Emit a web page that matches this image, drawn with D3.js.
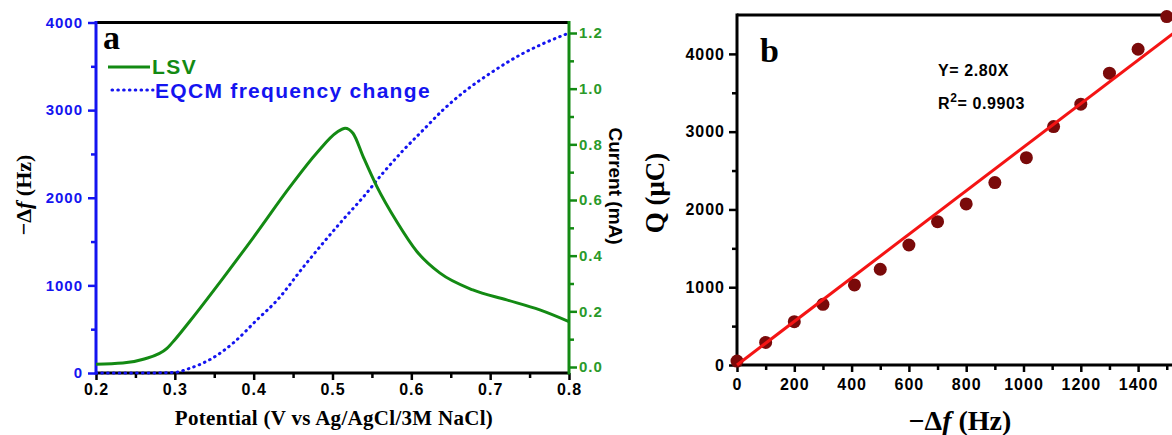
<!DOCTYPE html>
<html>
<head>
<script src="https://d3js.org/d3.v7.min.js"></script>
<style>
body { margin: 0; background: #fff; }
svg { display: block; }
text { font-family: "Liberation Sans", Arial, sans-serif; font-weight: bold; }
.serif { font-family: "Liberation Serif", "Times New Roman", serif; }
</style>
</head>
<body>
<svg width="1172" height="435"></svg>
<script>
// panel a - LSV current (mA) vs potential
var lsvV = [0.200, 0.234, 0.260, 0.290, 0.300, 0.320, 0.360, 0.400, 0.446, 0.480, 0.506, 0.516, 0.526, 0.539, 0.556, 0.582, 0.607, 0.636, 0.678, 0.721, 0.763, 0.800];
var lsvI = [0.010, 0.014, 0.028, 0.067, 0.098, 0.168, 0.315, 0.467, 0.647, 0.769, 0.844, 0.858, 0.840, 0.755, 0.650, 0.520, 0.415, 0.338, 0.277, 0.241, 0.205, 0.163];

// panel a - EQCM frequency change (Hz) vs potential
var eqcmV = [0.200, 0.250, 0.298, 0.319, 0.348, 0.374, 0.404, 0.430, 0.463, 0.488, 0.513, 0.539, 0.564, 0.590, 0.615, 0.640, 0.670, 0.700, 0.740, 0.770, 0.800];
var eqcmHz = [0, 0, 5, 54, 171, 342, 605, 833, 1209, 1483, 1746, 2008, 2282, 2544, 2773, 3001, 3230, 3420, 3640, 3770, 3880];

// panel b - charge vs frequency change
var dfHz = [0, 100, 200, 300, 410, 500, 600, 700, 800, 900, 1010, 1105, 1200, 1300, 1400, 1500];
var charge = [50, 290, 557, 780, 1029, 1231, 1543, 1843, 2071, 2345, 2666, 3065, 3353, 3752, 4060, 4480];
var slope = 2.80;
var r2 = "0.9903";

var potTicks = [0.2, 0.3, 0.4, 0.5, 0.6, 0.7, 0.8];
var hzTicks = [0, 1000, 2000, 3000, 4000];
var mATicks = [0, 0.2, 0.4, 0.6, 0.8, 1.0, 1.2];
var dfTicks = [0, 200, 400, 600, 800, 1000, 1200, 1400];
var qTicks = [0, 1000, 2000, 3000, 4000];

var blue = "#1414f0", green = "#138a13", greenTxt = "#2a9a2a";

var svg = d3.select("svg");

// ---------- panel a ----------
var x = d3.scaleLinear().domain([0.2, 0.8]).range([96, 569]);
var yL = d3.scaleLinear().domain([0, 4000]).range([373, 22.5]);
var yR = d3.scaleLinear().domain([0, 1.2]).range([367, 33]);

var a = svg.append("g");

function styleAxis(g, col, txtCol) {
    g.select(".domain").remove();
    g.selectAll("line").attr("stroke", col).attr("stroke-width", 2.5);
    g.selectAll("text").attr("fill", txtCol).style("font-size", "15px").style("letter-spacing", "1px");
}

// bottom
a.append("g").attr("transform", "translate(0,373)")
    .call(d3.axisBottom(x).tickValues(d3.range(0.25, 0.8, 0.1)).tickSize(5).tickFormat(""))
    .call(styleAxis, "#000", "#000");
a.append("g").attr("transform", "translate(0,373)")
    .call(d3.axisBottom(x).tickValues(potTicks).tickSize(7).tickPadding(4).tickFormat(d3.format(".1f")))
    .call(styleAxis, "#000", "#000")
    .selectAll("text").style("font-size", "16px");

// left
a.append("g").attr("transform", "translate(96,0)")
    .call(d3.axisLeft(yL).tickValues([500, 1500, 2500, 3500]).tickSize(5).tickFormat(""))
    .call(styleAxis, blue, blue);
a.append("g").attr("transform", "translate(96,0)")
    .call(d3.axisLeft(yL).tickValues(hzTicks).tickSize(8).tickPadding(5).tickFormat(d3.format("d")))
    .call(styleAxis, blue, blue);

// right
a.append("g").attr("transform", "translate(569,0)")
    .call(d3.axisRight(yR).tickValues([0.1, 0.3, 0.5, 0.7, 0.9, 1.1]).tickSize(5).tickFormat(""))
    .call(styleAxis, green, greenTxt);
a.append("g").attr("transform", "translate(569,0)")
    .call(d3.axisRight(yR).tickValues(mATicks).tickSize(8).tickPadding(2).tickFormat(d3.format(".1f")))
    .call(styleAxis, green, greenTxt);

// frame lines
a.append("line").attr("x1", 96).attr("x2", 569).attr("y1", 22.5).attr("y2", 22.5).attr("stroke", "#000").attr("stroke-width", 3);
a.append("line").attr("x1", 96).attr("x2", 569).attr("y1", 373).attr("y2", 373).attr("stroke", "#000").attr("stroke-width", 3);
a.append("line").attr("x1", 96).attr("x2", 96).attr("y1", 21).attr("y2", 374.5).attr("stroke", blue).attr("stroke-width", 3);
a.append("line").attr("x1", 569).attr("x2", 569).attr("y1", 21).attr("y2", 374.5).attr("stroke", green).attr("stroke-width", 3);

// curves
var eqcm = eqcmV.map(function(v, i) { return [v, eqcmHz[i]]; });
var lsv = lsvV.map(function(v, i) { return [v, lsvI[i]]; });

a.append("path").datum(eqcm)
    .attr("d", d3.line().x(function(d) { return x(d[0]); }).y(function(d) { return yL(d[1]); }).curve(d3.curveMonotoneX))
    .attr("fill", "none").attr("stroke", blue).attr("stroke-width", 3)
    .attr("stroke-linecap", "round").attr("stroke-dasharray", "0.6,5.2");
a.append("path").datum(lsv)
    .attr("d", d3.line().x(function(d) { return x(d[0]); }).y(function(d) { return yR(d[1]); }).curve(d3.curveMonotoneX))
    .attr("fill", "none").attr("stroke", green).attr("stroke-width", 3);

// legend
a.append("line").attr("x1", 108).attr("x2", 150).attr("y1", 67).attr("y2", 67).attr("stroke", green).attr("stroke-width", 3);
a.append("text").attr("x", 152).attr("y", 74).attr("fill", green).style("font-size", "21px").style("letter-spacing", "1.5px").text("LSV");
a.append("line").attr("x1", 112).attr("x2", 153).attr("y1", 90).attr("y2", 90).attr("stroke", blue).attr("stroke-width", 3)
    .attr("stroke-linecap", "round").attr("stroke-dasharray", "0.6,5.2");
a.append("text").attr("x", 155).attr("y", 98).attr("fill", blue).style("font-size", "21px").style("letter-spacing", "1.3px").text("EQCM frequency change");

a.append("text").attr("class", "serif").attr("x", 103).attr("y", 49).style("font-size", "34px").text("a");

// axis titles
a.append("text").attr("class", "serif").attr("x", 334).attr("y", 425).attr("text-anchor", "middle")
    .style("font-size", "21px").style("letter-spacing", "0.3px").text("Potential (V vs Ag/AgCl/3M NaCl)");
var tl = a.append("text").attr("class", "serif").attr("transform", "translate(31,195) rotate(-90)").attr("text-anchor", "middle").style("font-size", "22px");
tl.append("tspan").text("\u2212\u0394");
tl.append("tspan").style("font-style", "italic").text("f");
tl.append("tspan").text(" (Hz)");
a.append("text").attr("transform", "translate(609,186) rotate(90)").attr("text-anchor", "middle")
    .style("font-size", "19px").text("Current (mA)");

// ---------- panel b ----------
var xb = d3.scaleLinear().domain([0, 1600]).range([737, 1195.4]);
var yb = d3.scaleLinear().domain([0, 4500]).range([365, 15]);
var b = svg.append("g");

b.append("g").attr("transform", "translate(0,365)")
    .call(d3.axisBottom(xb).tickValues(d3.range(100, 1600, 200)).tickSize(5).tickFormat(""))
    .call(styleAxis, "#000", "#000");
b.append("g").attr("transform", "translate(0,365)")
    .call(d3.axisBottom(xb).tickValues(dfTicks).tickSize(7).tickPadding(7).tickFormat(d3.format("d")))
    .call(styleAxis, "#000", "#000")
    .selectAll("text").style("font-size", "16px");
b.append("g").attr("transform", "translate(737,0)")
    .call(d3.axisLeft(yb).tickValues([500, 1500, 2500, 3500]).tickSize(5).tickFormat(""))
    .call(styleAxis, "#000", "#000");
b.append("g").attr("transform", "translate(737,0)")
    .call(d3.axisLeft(yb).tickValues(qTicks).tickSize(8).tickPadding(4).tickFormat(d3.format("d")))
    .call(styleAxis, "#000", "#000")
    .selectAll("text").style("font-size", "16px");

b.append("line").attr("x1", 737).attr("x2", 1172).attr("y1", 15).attr("y2", 15).attr("stroke", "#000").attr("stroke-width", 3);
b.append("line").attr("x1", 737).attr("x2", 1172).attr("y1", 365).attr("y2", 365).attr("stroke", "#000").attr("stroke-width", 3);
b.append("line").attr("x1", 737).attr("x2", 737).attr("y1", 13.5).attr("y2", 366.5).attr("stroke", "#000").attr("stroke-width", 3);

var pts = dfHz.map(function(v, i) { return [v, charge[i]]; });
b.append("g").selectAll("circle").data(pts).enter().append("circle")
    .attr("cx", function(d) { return xb(d[0]); })
    .attr("cy", function(d) { return yb(d[1]); })
    .attr("r", 6.5).attr("fill", "#7a0a0a");

b.append("line")
    .attr("x1", xb(0)).attr("y1", yb(0))
    .attr("x2", xb(1600)).attr("y2", yb(1600 * slope))
    .attr("stroke", "#f41414").attr("stroke-width", 3);

b.append("text").attr("class", "serif").attr("x", 760).attr("y", 62).style("font-size", "34px").text("b");

b.append("text").attr("x", 938).attr("y", 76).style("font-size", "16px").style("letter-spacing", "0.6px").text("Y= " + slope.toFixed(2) + "X");
var rt = b.append("text").attr("x", 938).attr("y", 109).style("font-size", "16px").style("letter-spacing", "0.6px");
rt.append("tspan").text("R");
rt.append("tspan").attr("dy", -7).style("font-size", "12px").text("2");
rt.append("tspan").attr("dy", 7).text("= " + r2);

b.append("text").attr("class", "serif").attr("x", 960).attr("y", 430).attr("text-anchor", "middle").style("font-size", "28px")
    .call(function(t) {
        t.append("tspan").text("\u2212\u0394");
        t.append("tspan").style("font-style", "italic").text("f");
        t.append("tspan").text(" (Hz)");
    });
b.append("text").attr("class", "serif").attr("transform", "translate(664,193) rotate(-90)").attr("text-anchor", "middle")
    .style("font-size", "27px").text("Q (\u03bcC)");
</script>
</body>
</html>
